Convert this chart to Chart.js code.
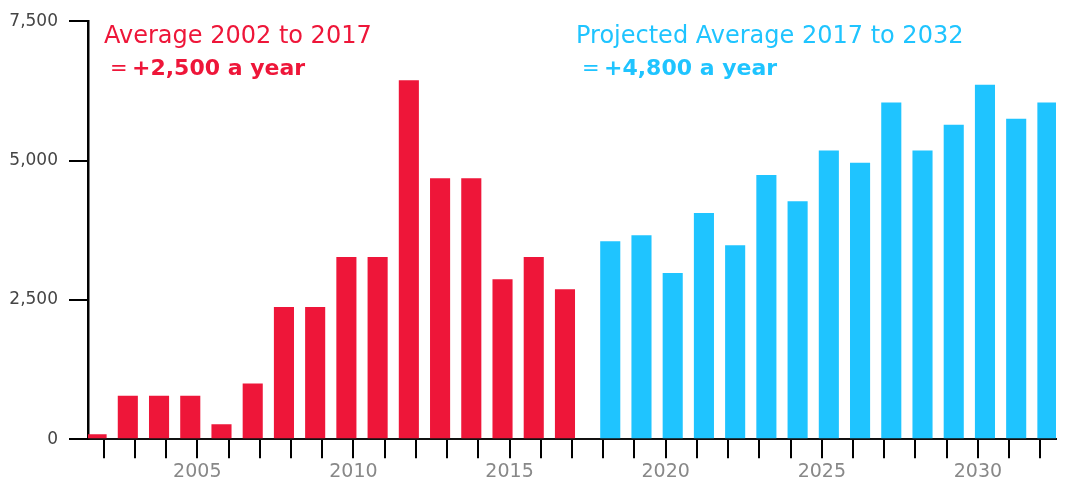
<!DOCTYPE html>
<html>
<head>
<meta charset="utf-8">
<script src="https://cdn.jsdelivr.net/npm/chart.js@4/dist/chart.umd.min.js"></script>
<style>
    html, body { margin: 0; padding: 0; background: #fff; }
    #wrap { width: 1066px; height: 485px; }
</style>
</head>
<body>
<div id="wrap"><canvas id="myChart" width="1066" height="485"></canvas></div>
<script>
// data
var years = ['2002', '2003', '2004', '2005', '2006', '2007', '2008', '2009', '2010', '2011',
             '2012', '2013', '2014', '2015', '2016', '2017', '2018', '2019', '2020', '2021',
             '2022', '2023', '2024', '2025', '2026', '2027', '2028', '2029', '2030', '2031', '2032'];
var pastHomes = [90, 780, 780, 780, 270, 1000, 2370, 2370, 3270, 3270, 6440, 4680, 4680, 2870, 3270, 2690];
var projectedHomes = [3550, 3660, 2980, 4060, 3480, 4740, 4270, 5180, 4960, 6040, 5180, 5640, 6360, 5750, 6040];
var yTicks = [0, 2500, 5000, 7500];

var pastTitle = 'Average 2002 to 2017';
var pastAverage = '+2,500 a year';
var projectedTitle = 'Projected Average 2017 to 2032';
var projectedAverage = '+4,800 a year';

var red = '#EE1639';
var blue = '#1FC4FF';
var fontName = '"DejaVu Sans", sans-serif';

window.onload = function () {
    var pastData = [];
    var projectedData = [];
    for (var i = 0; i < years.length; i++) {
        if (i < pastHomes.length) {
            pastData.push(pastHomes[i]);
            projectedData.push(0);
        } else {
            pastData.push(0);
            projectedData.push(projectedHomes[i - pastHomes.length]);
        }
    }

    // zero bars show up as little grey dashes on the baseline
    function barColor(col) {
        return function (c) {
            return c.raw === 0 ? '#777' : col;
        };
    }

    var chartdata = {
        labels: years,
        datasets: [
            {
                label: 'Past',
                data: pastData,
                backgroundColor: barColor(red),
                categoryPercentage: 0.9,
                barPercentage: 1.43,
                minBarLength: 1
            },
            {
                label: 'Projected',
                data: projectedData,
                backgroundColor: barColor(blue),
                categoryPercentage: 0.9,
                barPercentage: 1.43,
                minBarLength: 1
            }
        ]
    };

    var averages = {
        id: 'averages',
        afterDraw: function (chart) {
            var ctx = chart.ctx;
            var area = chart.chartArea;
            ctx.save();
            ctx.textBaseline = 'alphabetic';

            function twoLines(col, x, title, avg) {
                ctx.fillStyle = col;
                ctx.font = '400 24px ' + fontName;
                ctx.fillText(title, x, area.top + 22);
                ctx.font = '400 21px ' + fontName;
                ctx.fillText('=', x + 6, area.top + 54);
                ctx.font = '700 22px ' + fontName;
                ctx.fillText(avg, x + 28, area.top + 54);
            }

            twoLines(red, area.left + 16, pastTitle, pastAverage);
            twoLines(blue, area.left + 488, projectedTitle, projectedAverage);
            ctx.restore();
        }
    };

    var ctx = document.getElementById('myChart');
    var barGraph = new Chart(ctx, {
        type: 'bar',
        data: chartdata,
        plugins: [averages],
        options: {
            responsive: false,
            animation: false,
            layout: { padding: { top: 13, right: 10, left: 0, bottom: 0 } },
            plugins: {
                legend: { display: false },
                tooltip: { enabled: false }
            },
            scales: {
                x: {
                    offset: true,
                    border: { color: '#111', width: 2 },
                    grid: { offset: false, drawOnChartArea: false, tickLength: 19, color: '#000', lineWidth: 2 },
                    ticks: {
                        autoSkip: false,
                        maxRotation: 0,
                        padding: 2,
                        color: '#888',
                        font: { family: fontName, size: 19 },
                        callback: function (val, idx) {
                            var y = years[idx];
                            return Number(y) % 5 === 0 ? y : '';
                        }
                    }
                },
                y: {
                    min: 0,
                    max: 7500,
                    afterBuildTicks: function (scale) {
                        scale.ticks = yTicks.map(function (v) { return { value: v }; });
                    },
                    afterFit: function (scale) {
                        scale.width = 88;
                    },
                    border: { color: '#000', width: 2.5 },
                    grid: { drawOnChartArea: false, tickLength: 19, color: '#000', lineWidth: 2 },
                    ticks: {
                        padding: 11,
                        color: '#444',
                        font: { family: fontName, size: 17 },
                        callback: function (v) { return v.toLocaleString('en-US'); }
                    }
                }
            }
        }
    });
};
</script>
</body>
</html>
